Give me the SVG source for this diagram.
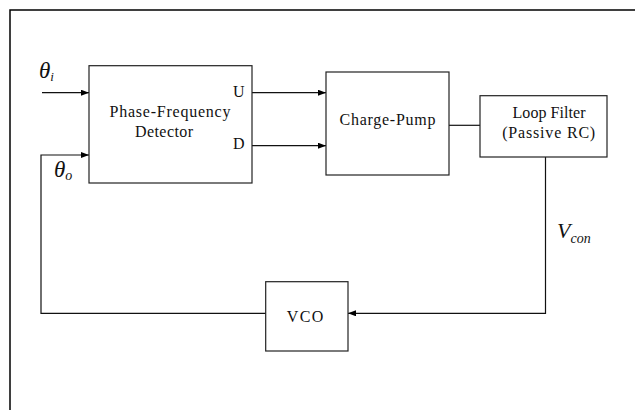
<svg xmlns="http://www.w3.org/2000/svg" width="635" height="410" viewBox="0 0 635 410">
<defs>
<marker id="ah" markerWidth="8" markerHeight="6" refX="8" refY="3" orient="auto" markerUnits="userSpaceOnUse">
<path d="M0,0 L8,3 L0,6 Z" fill="#000"/>
</marker>
<style>
.box{fill:#fff;stroke:#222;stroke-width:1.2}
.ln{fill:none;stroke:#111;stroke-width:1.2}
.t{font-family:"Liberation Serif","Times New Roman",serif;font-size:16px;fill:#111}
.m{font-family:"Liberation Serif","Times New Roman",serif;font-style:italic;fill:#111}
</style>
</defs>
<rect width="635" height="410" fill="#fff"/>
<path d="M10,410 V10 H635" fill="none" stroke="#000" stroke-width="1.5"/>
<g id="connectors">
<line class="ln" x1="42" y1="92.7" x2="89" y2="92.7" marker-end="url(#ah)"/>
<polyline class="ln" points="348,313.3 41,313.3 41,155 89,155" marker-end="url(#ah)"/>
<line class="ln" x1="252" y1="92.7" x2="326" y2="92.7" marker-end="url(#ah)"/>
<line class="ln" x1="252" y1="145.7" x2="326" y2="145.7" marker-end="url(#ah)"/>
<line class="ln" x1="449" y1="125.3" x2="480" y2="125.3"/>
<polyline class="ln" points="545.5,157 545.5,313.3 348,313.3" marker-end="url(#ah)"/>
</g>
<g id="pfd">
<rect class="box" x="89" y="65.7" width="163" height="117.3"/>
<text class="t" x="170" y="116.7" text-anchor="middle" textLength="121" lengthAdjust="spacing">Phase-Frequency</text>
<text class="t" x="164" y="136.7" text-anchor="middle" textLength="58" lengthAdjust="spacing">Detector</text>
<text class="t" x="233" y="96.7">U</text>
<text class="t" x="233" y="149">D</text>
</g>
<g id="chargepump">
<rect class="box" x="326" y="72" width="123" height="103"/>
<text class="t" x="387.5" y="125" text-anchor="middle" textLength="96" lengthAdjust="spacing">Charge-Pump</text>
</g>
<g id="loopfilter">
<rect class="box" x="480" y="95.7" width="127" height="61.3"/>
<text class="t" x="549" y="118.3" text-anchor="middle" textLength="73" lengthAdjust="spacing">Loop Filter</text>
<text class="t" x="548.7" y="138.3" text-anchor="middle" textLength="93" lengthAdjust="spacing">(Passive RC)</text>
</g>
<g id="vco">
<rect class="box" x="265.7" y="281.7" width="82.3" height="69.3"/>
<text class="t" x="305" y="321.7" text-anchor="middle" textLength="36.6" lengthAdjust="spacing">VCO</text>
</g>
<g id="labels">
<text class="m" x="39" y="78" font-size="23">θ<tspan font-size="13" dy="3">i</tspan></text>
<text class="m" x="54" y="177" font-size="23">θ<tspan font-size="14" dy="3">o</tspan></text>
<text class="m" x="557" y="238" font-size="22">V<tspan font-size="14" dy="5">con</tspan></text>
</g>
</svg>
